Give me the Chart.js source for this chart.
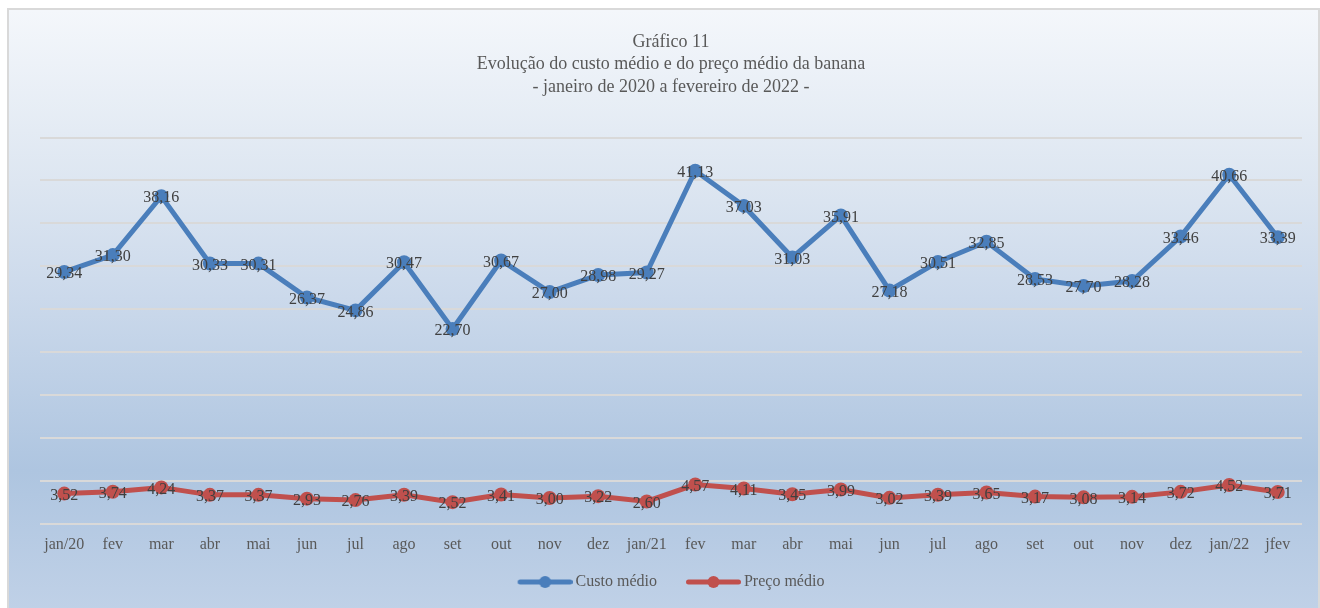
<!DOCTYPE html>
<html>
<head>
<meta charset="utf-8">
<script src="https://cdn.jsdelivr.net/npm/chart.js@4.4.1/dist/chart.umd.min.js"></script>
<style>
  html, body { margin: 0; padding: 0; background: #fff; overflow: hidden; }
  #frame {
    position: absolute; left: 7px; top: 8px; width: 1309px; height: 640px;
    border: 2px solid #d9d9d9;
    background: linear-gradient(180deg, #f4f7fb 0%, #dde6f1 27%, #cbd9eb 45%, #aec5e0 72%, #c0d1e7 94%, #c4d4e9 100%);
  }
  #wrap { position: absolute; left: 0; top: 0; width: 1320px; height: 608px; }
</style>
</head>
<body>
<div id="frame"></div>
<div id="wrap"><canvas id="myChart"></canvas></div>
<script>
// data
const categories = ["jan/20", "fev", "mar", "abr", "mai", "jun", "jul", "ago", "set", "out", "nov", "dez",
  "jan/21", "fev", "mar", "abr", "mai", "jun", "jul", "ago", "set", "out", "nov", "dez", "jan/22", "jfev"];
const custoMedio = [29.34, 31.30, 38.16, 30.33, 30.31, 26.37, 24.86, 30.47, 22.70, 30.67, 27.00, 28.98,
  29.27, 41.13, 37.03, 31.03, 35.91, 27.18, 30.51, 32.85, 28.53, 27.70, 28.28, 33.46, 40.66, 33.39];
const precoMedio = [3.52, 3.74, 4.24, 3.37, 3.37, 2.93, 2.76, 3.39, 2.52, 3.41, 3.00, 3.22,
  2.60, 4.57, 4.11, 3.45, 3.99, 3.02, 3.39, 3.65, 3.17, 3.08, 3.14, 3.72, 4.52, 3.71];
const titleLines = ["Gráfico 11", "Evolução do custo médio e do preço médio da banana", "- janeiro de 2020 a fevereiro de 2022 -"];

const BLUE = "#4a7ebb";
const RED = "#c0504d";
const FONT = "'Liberation Serif', 'Times New Roman', serif";

// legend symbol: line with a dot (canvas a bit wider than the box so the line reaches the text)
function legendIcon(color) {
  const c = document.createElement("canvas");
  c.width = 60;
  c.height = 14;
  const g = c.getContext("2d");
  g.strokeStyle = color;
  g.lineWidth = 5;
  g.lineCap = "round";
  g.beginPath();
  g.moveTo(7.5, 7);
  g.lineTo(57.5, 7);
  g.stroke();
  g.fillStyle = color;
  g.beginPath();
  g.arc(32.5, 7, 6, 0, Math.PI * 2);
  g.fill();
  return c;
}

// value labels centered on the points
const pointLabels = {
  id: "pointLabels",
  afterDatasetsDraw(chart) {
    const ctx = chart.ctx;
    ctx.save();
    ctx.font = "16px " + FONT;
    ctx.fillStyle = "#404040";
    ctx.textAlign = "center";
    ctx.textBaseline = "middle";
    chart.data.datasets.forEach((ds, i) => {
      const meta = chart.getDatasetMeta(i);
      meta.data.forEach((pt, j) => {
        ctx.fillText(ds.data[j].toFixed(2).replace(".", ","), pt.x, pt.y + 2);
      });
    });
    ctx.restore();
  },
};

const ctx = document.getElementById("myChart");

new Chart(ctx, {
  type: "line",
  data: {
    labels: categories,
    datasets: [
      {
        label: "Custo médio",
        data: custoMedio,
        borderColor: BLUE,
        backgroundColor: BLUE,
        borderWidth: 5,
        pointRadius: 7,
        pointBorderWidth: 0,
        pointBackgroundColor: BLUE,
        tension: 0,
      },
      {
        label: "Preço médio",
        data: precoMedio,
        borderColor: RED,
        backgroundColor: RED,
        borderWidth: 5,
        pointRadius: 7,
        pointBorderWidth: 0,
        pointBackgroundColor: RED,
        tension: 0,
      },
    ],
  },
  options: {
    responsive: true,
    maintainAspectRatio: false,
    animation: false,
    layout: {
      padding: { top: 20, left: 40, right: 18, bottom: 8 },
    },
    scales: {
      x: {
        offset: true,
        grid: { display: false },
        border: { display: false },
        ticks: {
          color: "#595959",
          font: { family: FONT, size: 16 },
          padding: 3,
          maxRotation: 0,
          autoSkip: false,
        },
      },
      y: {
        min: 0,
        max: 45,
        ticks: { display: false, stepSize: 5 },
        border: { display: false },
        grid: { color: "#d9d9d9", lineWidth: 2, drawTicks: false },
      },
    },
    plugins: {
      title: {
        display: true,
        text: titleLines,
        color: "#595959",
        font: { family: FONT, size: 18, weight: "normal", lineHeight: 1.25 },
        padding: { top: 11, bottom: 39 },
      },
      legend: {
        position: "bottom",
        labels: {
          usePointStyle: true,
          pointStyleWidth: 50,
          color: "#595959",
          font: { family: FONT, size: 16 },
          padding: 17,
          generateLabels(chart) {
            return chart.data.datasets.map((ds, i) => ({
              text: i === 0 ? ds.label + "   " : ds.label,
              fontColor: "#595959",
              pointStyle: legendIcon(ds.borderColor),
              hidden: false,
              datasetIndex: i,
              lineWidth: 0,
              strokeStyle: ds.borderColor,
              fillStyle: ds.borderColor,
            }));
          },
        },
      },
      tooltip: { enabled: false },
    },
  },
  plugins: [pointLabels],
});
</script>
</body>
</html>
